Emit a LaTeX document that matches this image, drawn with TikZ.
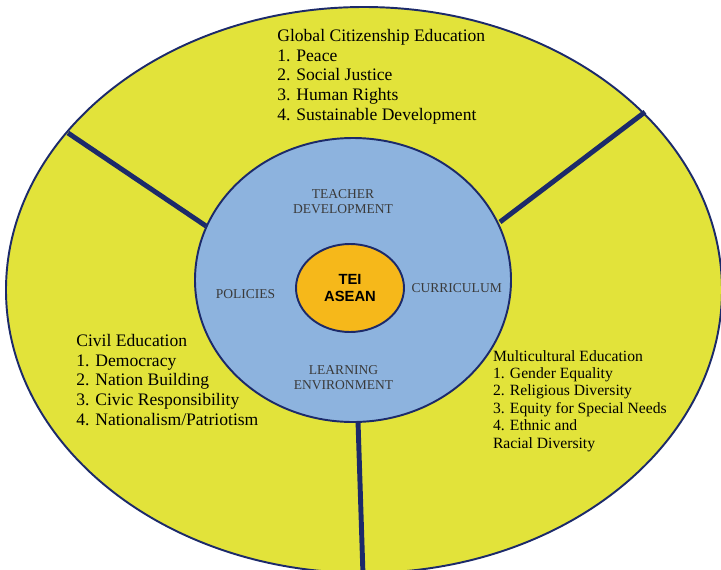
\documentclass[tikz,border=0pt]{standalone}
\usepackage{fontspec}
\setmainfont{Liberation Serif}
\setsansfont{Liberation Sans}
\definecolor{ringyellow}{HTML}{E2E33A}
\definecolor{coreblue}{HTML}{8DB3DE}
\definecolor{huborange}{HTML}{F6B81A}
\definecolor{navy}{HTML}{1C2A6A}
\definecolor{areagray}{HTML}{3A3A3A}

\begin{document}
\begin{tikzpicture}[
    x=0.02cm, y=-0.02cm,
    ring/.style={draw=navy, line width=1.1pt},
    divider/.style={draw=navy, line width=2.8pt},
    topic/.style={anchor=north west, inner sep=0pt, align=left, font=\fontsize{10}{11.2}\selectfont},
    smalltopic/.style={topic, font=\fontsize{8.9}{9.9}\selectfont},
    area/.style={anchor=north, inner sep=0pt, align=center, text=areagray, font=\fontsize{7.7}{8.7}\selectfont}
  ]
    \clip (0,0) rectangle (721,569);

    % outer ring
    \path[ring, fill=ringyellow] (364,290) ellipse (358 and 283);

    % dividers between the three education fields
    \coordinate (ulout) at (68,133);
    \coordinate (ulin) at (206,226);
    \coordinate (urout) at (645,112);
    \coordinate (urin) at (500,222);
    \coordinate (botout) at (363,575);
    \coordinate (botin) at (358,421);
    \draw[divider] (ulout) -- (ulin);
    \draw[divider] (urout) -- (urin);
    \draw[divider] (botout) -- (botin);

    % core and hub
    \path[ring, fill=coreblue] (353,280) ellipse (158 and 142);
    \path[ring, fill=huborange] (350,288) ellipse (54 and 44);

    \node[area] (teacher) at (343,189) {TEACHER\\DEVELOPMENT};
    \node[area] (policies) at (245.5,289) {POLICIES};
    \node[area] (curriculum) at (456.7,283) {CURRICULUM};
    \node[area] (learning) at (343.5,365) {LEARNING\\ENVIRONMENT};
    \node[anchor=north, inner sep=0pt, align=center, font=\sffamily\bfseries\fontsize{8.4}{9.9}\selectfont] (hub) at (350,274) {TEI\\ASEAN};

    \node[topic] (global) at (277,29) {Global Citizenship Education\\1. Peace\\2. Social Justice\\3. Human Rights\\4. Sustainable Development};
    \node[topic] (civil) at (76,334) {Civil Education\\1. Democracy\\2. Nation Building\\3. Civic Responsibility\\4. Nationalism/Patriotism};
    \node[smalltopic] (multi) at (492.7,350) {Multicultural Education\\1. Gender Equality\\2. Religious Diversity\\3. Equity for Special Needs\\4. Ethnic and\\Racial Diversity};
  \end{tikzpicture}
\end{document}
